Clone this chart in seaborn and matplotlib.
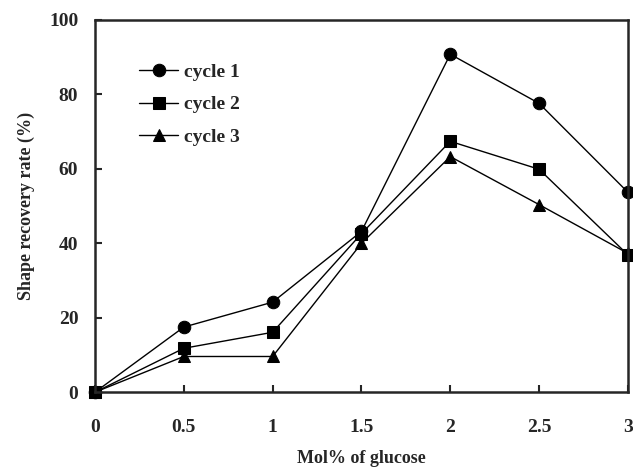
import matplotlib
matplotlib.use("Agg")
import matplotlib.pyplot as plt
import seaborn as sns
import pandas as pd

glucose = [0, 0.5, 1, 1.5, 2, 2.5, 3]
cycle1 = [0, 17.5, 24.2, 43.2, 90.8, 77.6, 53.7]
cycle2 = [0, 11.8, 16.1, 42.6, 67.4, 59.9, 36.9]
cycle3 = [0, 9.6, 9.6, 40.0, 63.3, 50.4, 37.3]
series_names = ["cycle 1", "cycle 2", "cycle 3"]
y_ticks = [0, 20, 40, 60, 80, 100]
x_ticks = [0, 0.5, 1, 1.5, 2, 2.5, 3]
x_tick_labels = ["0", "0.5", "1", "1.5", "2", "2.5", "3"]

sns.set_style("ticks")
plt.rcParams["font.family"] = ["Liberation Serif", "DejaVu Serif"]
plt.rcParams["font.weight"] = "bold"

df = pd.DataFrame({
    "glucose": glucose * 3,
    "rate": cycle1 + cycle2 + cycle3,
    "series": [n for n in series_names for _ in glucose],
})

fig = plt.figure(figsize=(6.33, 4.76), dpi=100)
ax = fig.add_axes([0.150, 0.176, 0.842, 0.782])

sns.lineplot(
    data=df, x="glucose", y="rate", style="series", hue="series",
    palette=["black"] * 3, markers=["o", "s", "^"], dashes=False,
    markersize=9, linewidth=1.0, markeredgecolor="black", ax=ax,
    clip_on=False,
)

ax.set_xlim(0, 3)
ax.set_ylim(0, 100)
ax.set_xticks(x_ticks)
ax.set_xticklabels(x_tick_labels)
ax.set_yticks(y_ticks)
ax.tick_params(direction="in", length=5, width=1.5, labelsize=14, pad=19)
ax.tick_params(axis="y", pad=12)
for s in ax.spines.values():
    s.set_linewidth(1.8)
    s.set_visible(True)
for lab in ax.get_xticklabels() + ax.get_yticklabels():
    lab.set_fontweight("bold")

ax.set_xlabel("Mol% of glucose", fontsize=13, fontweight="bold", labelpad=10)
ax.set_ylabel("Shape recovery rate (%)", fontsize=13, fontweight="bold", labelpad=10)

leg = ax.legend(
    loc="upper left", bbox_to_anchor=(0.05, 0.93), frameon=False,
    fontsize=14, handlelength=2.0, handletextpad=0.3, labelspacing=0.75,
    title=None,
)
for t in leg.get_texts():
    t.set_fontweight("bold")

fig.savefig("out.png", dpi=100)
